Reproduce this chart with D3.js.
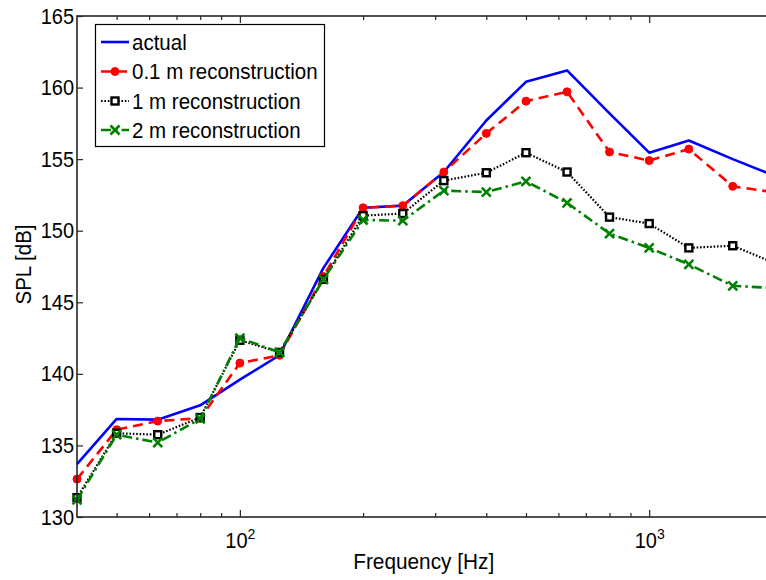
<!DOCTYPE html>
<html>
<head>
<meta charset="utf-8">
<script src="https://cdn.jsdelivr.net/npm/d3@7"></script>
<style>
  html, body { margin: 0; padding: 0; background: #fff; }
  svg { display: block; font-family: "Liberation Sans", Arial, sans-serif; }
</style>
</head>
<body>
<svg id="chart" width="766" height="580"></svg>
<script>
// ---- data ----
const freqs = [40, 50, 63, 80, 100, 125, 160, 200, 250, 315, 400, 500, 630, 800, 1000, 1250, 1600, 2000];
const actual = [133.7, 136.85, 136.8, 137.8, 139.6, 141.3, 147.4, 151.6, 151.75, 154.1, 157.7, 160.4, 161.2, 158.2, 155.45, 156.3, 155.0, 153.9];
const recon01 = [132.65, 136.1, 136.7, 136.9, 140.75, 141.3, 146.8, 151.6, 151.75, 154.1, 156.8, 159.05, 159.7, 155.5, 154.9, 155.7, 153.1, 152.7];
const recon1 = [131.35, 135.85, 135.75, 136.95, 142.35, 141.5, 146.6, 151.05, 151.2, 153.5, 154.05, 155.45, 154.1, 150.95, 150.5, 148.8, 148.95, 147.8];
const recon2 = [131.2, 135.75, 135.2, 136.85, 142.5, 141.5, 146.6, 150.75, 150.7, 152.8, 152.7, 153.45, 151.95, 149.8, 148.8, 147.65, 146.15, 146.0];
const seriesNames = ["actual", "0.1 m reconstruction", "1 m reconstruction", "2 m reconstruction"];
const yTicks = [130, 135, 140, 145, 150, 155, 160, 165];
const xMinorTicks = [50, 60, 70, 80, 90, 200, 300, 400, 500, 600, 700, 800, 900, 2000];
const xMajorTicks = [100, 1000];
const xMajorLabels = [["10", "2"], ["10", "3"]];
const xLabel = "Frequency [Hz]";
const yLabel = "SPL [dB]";

// ---- layout ----
const L = 77, T = 16, B = 517;
const x = d3.scaleLog().domain([40, 2000]).range([L, 772.4]);
const y = d3.scaleLinear().domain([130, 165]).range([B, T]);
const R = x(2000);

const svg = d3.select("#chart");
const axisColor = "#262626";

// series
const styles = [
  { data: actual, color: "#0000ff", width: 2.6, dash: null, marker: "none" },
  { data: recon01, color: "#ff0000", width: 2.6, dash: "10,6", marker: "circle" },
  { data: recon1, color: "#000000", width: 2.2, dash: "1.6,1.8", marker: "square" },
  { data: recon2, color: "#008000", width: 2.6, dash: "10,4,2.5,4", marker: "x" }
];

const line = d3.line().x(d => x(d[0])).y(d => y(d[1]));

function drawMarker(g, type, cx, cy, color) {
  if (type === "circle") {
    g.append("circle").attr("cx", cx).attr("cy", cy).attr("r", 4)
      .attr("fill", color).attr("stroke", color).attr("stroke-width", 1);
  } else if (type === "square") {
    g.append("rect").attr("x", cx - 3.5).attr("y", cy - 3.5).attr("width", 7).attr("height", 7)
      .attr("fill", "#fff").attr("stroke", color).attr("stroke-width", 2.4);
  } else if (type === "x") {
    const s = 4.5;
    g.append("path").attr("d", `M${cx - s},${cy - s}L${cx + s},${cy + s}M${cx - s},${cy + s}L${cx + s},${cy - s}`)
      .attr("stroke", color).attr("stroke-width", 2.6).attr("fill", "none");
  }
}

const plotG = svg.append("g");
styles.forEach(s => {
  const pts = freqs.map((f, i) => [f, s.data[i]]);
  plotG.append("path").attr("d", line(pts)).attr("fill", "none")
    .attr("stroke", s.color).attr("stroke-width", s.width)
    .attr("stroke-dasharray", s.dash)
    .attr("stroke-linejoin", "round");
  const mg = plotG.append("g");
  pts.forEach(p => drawMarker(mg, s.marker, x(p[0]), y(p[1]), s.color));
});

// axes box
const axG = svg.append("g");
axG.append("rect").attr("x", L).attr("y", T).attr("width", R - L).attr("height", B - T)
  .attr("fill", "none").attr("stroke", axisColor).attr("stroke-width", 1.6);

// x axis ticks (bottom & top, inward)
const bottomMinor = svg.append("g").attr("transform", `translate(0,${B})`)
  .call(d3.axisBottom(x).tickValues(xMinorTicks).tickSizeInner(-4).tickSizeOuter(0).tickFormat(""));
const bottomMajor = svg.append("g").attr("transform", `translate(0,${B})`)
  .call(d3.axisBottom(x).tickValues(xMajorTicks).tickSizeInner(-7).tickSizeOuter(0).tickFormat(""));
const topMinor = svg.append("g").attr("transform", `translate(0,${T})`)
  .call(d3.axisTop(x).tickValues(xMinorTicks).tickSizeInner(-4).tickSizeOuter(0).tickFormat(""));
const topMajor = svg.append("g").attr("transform", `translate(0,${T})`)
  .call(d3.axisTop(x).tickValues(xMajorTicks).tickSizeInner(-7).tickSizeOuter(0).tickFormat(""));
const leftAx = svg.append("g").attr("transform", `translate(${L},0)`)
  .call(d3.axisLeft(y).tickValues(yTicks).tickSizeInner(-6).tickSizeOuter(0).tickPadding(3));
const rightAx = svg.append("g").attr("transform", `translate(${R},0)`)
  .call(d3.axisRight(y).tickValues(yTicks).tickSizeInner(-6).tickSizeOuter(0).tickFormat(""));

[bottomMinor, bottomMajor, topMinor, topMajor, leftAx, rightAx].forEach(g => {
  g.select(".domain").remove();
  g.selectAll(".tick line").attr("stroke", axisColor).attr("stroke-width", 1.2);
});
leftAx.selectAll(".tick text").attr("font-size", 20).attr("fill", "#000")
  .attr("font-family", "'Liberation Sans', Arial, sans-serif")
  .attr("transform", "scale(1,1.1)");

// x major labels with superscript
xMajorTicks.forEach((v, i) => {
  const t = svg.append("text").attr("transform", `translate(${x(v) + 0.5},548) scale(1,1.1)`)
    .attr("text-anchor", "middle").attr("font-size", 20).attr("fill", "#000");
  t.append("tspan").text(xMajorLabels[i][0]);
  t.append("tspan").attr("dy", -8).attr("font-size", 14).text(xMajorLabels[i][1]);
});

// axis labels
svg.append("text").attr("transform", `translate(${(L + R) / 2 - 1},569) scale(1,1.05)`).attr("text-anchor", "middle")
  .attr("font-size", 20.8).attr("fill", "#000").text(xLabel);
svg.append("text").attr("transform", `translate(31,${(T + B) / 2 - 2}) rotate(-90) scale(1,1.05)`)
  .attr("text-anchor", "middle").attr("font-size", 20.5).attr("fill", "#000").text(yLabel);

// legend
const lg = svg.append("g");
lg.append("rect").attr("x", 95.5).attr("y", 24.5).attr("width", 229).attr("height", 122)
  .attr("fill", "#fff").attr("stroke", "#000").attr("stroke-width", 1.2);
const rowY = [42, 71.5, 101, 130];
styles.forEach((s, i) => {
  const cy = rowY[i];
  lg.append("line").attr("x1", 101).attr("x2", 129).attr("y1", cy).attr("y2", cy)
    .attr("stroke", s.color).attr("stroke-width", s.width).attr("stroke-dasharray", s.dash);
  drawMarker(lg, s.marker, 115, cy, s.color);
  lg.append("text").attr("transform", `translate(132,${cy + 7.5}) scale(1,1.08)`)
    .attr("font-size", 20.5).attr("fill", "#000")
    .text(seriesNames[i]);
});
</script>
</body>
</html>
